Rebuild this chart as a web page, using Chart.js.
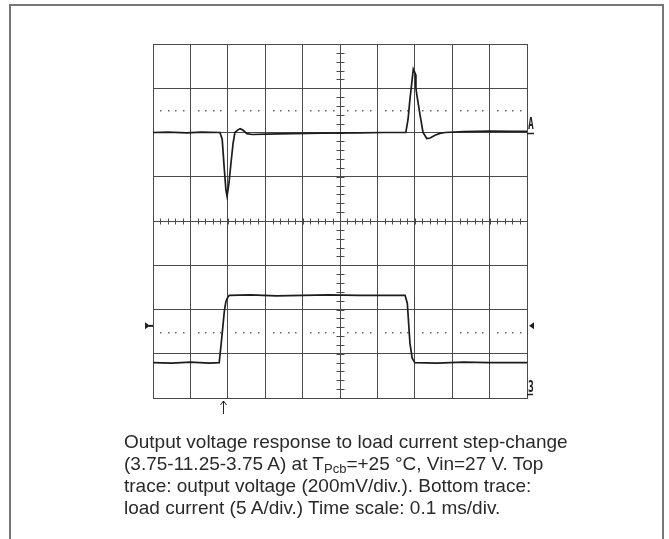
<!DOCTYPE html>
<html>
<head>
<meta charset="utf-8">
<script src="https://cdn.jsdelivr.net/npm/chart.js@4"></script>
<style>
  body { margin: 0; background: #fff; }
  #frame { position: absolute; left: 9px; top: 4px; width: 651px; height: 560px; border: 2px solid #777; border-bottom: none; }
  #scope { position: absolute; left: 0; top: 0; }
  #caption { position: absolute; left: 124px; top: 431px; width: 520px; font: 19px "Liberation Sans", Arial, sans-serif; line-height: 22px; color: #2a2a2a; }
  #caption sub { font-size: 13px; vertical-align: -3px; line-height: 0; }
</style>
</head>
<body>
<div id="frame"></div>
<canvas id="scope" width="669" height="539"></canvas>
<div id="caption">Output voltage response to load current step-change<br>(3.75-11.25-3.75 A) at T<sub>Pcb</sub>=+25 °C, Vin=27 V. Top<br>trace: output voltage (200mV/div.). Bottom trace:<br>load current (5 A/div.) Time scale: 0.1 ms/div.</div>
<script>
// Top trace: output voltage deviation (mV), time in ms
const voltTime = [0, 0.04, 0.09, 0.13, 0.179, 0.185, 0.190, 0.195, 0.198, 0.203, 0.209, 0.214, 0.219, 0.227, 0.233, 0.241, 0.251, 0.265, 0.30, 0.37, 0.45, 0.55, 0.62, 0.676, 0.682, 0.687, 0.693, 0.696, 0.699, 0.702, 0.703, 0.706, 0.714, 0.722, 0.732, 0.741, 0.754, 0.767, 0.781, 0.83, 0.9, 0.96, 1.0];
const voltDev = [0, 2, -2, 2, 0, -30, -150, -260, -288, -230, -130, -50, 0, 12, 17, 10, -5, -9, -7, -5, -3, -2, 0, 0, 60, 150, 240, 286, 275, 262, 200, 164, 80, 0, -27, -25, -12, -4, 0, 4, 6, 5, 5];

// Bottom trace: load current (A)
const currTime = [0, 0.05, 0.1, 0.15, 0.177, 0.182, 0.191, 0.195, 0.200, 0.204, 0.26, 0.33, 0.4, 0.47, 0.55, 0.62, 0.674, 0.680, 0.687, 0.693, 0.700, 0.76, 0.83, 0.9, 1.0];
const currAmp = [4.0, 3.95, 4.05, 3.95, 4.0, 6.0, 9.9, 10.9, 11.4, 11.6, 11.65, 11.55, 11.6, 11.65, 11.6, 11.6, 11.6, 10.7, 6.2, 4.5, 4.0, 3.95, 4.05, 4.0, 4.0];

// scope settings
const timeDiv = 0.1;      // ms/div
const voltDiv = 200;      // mV/div
const currDiv = 5;        // A/div
const trigLevel = 8.15;   // A
const trigTime = 0.188;   // ms

const gridColor = '#4a4a4a';
const traceColor = '#1c1c1c';

const scopeMarks = {
  id: 'scopeMarks',
  beforeDatasetsDraw(chart) {
    const {ctx, chartArea: a, scales: {x, y}} = chart;
    const cx = Math.round(x.getPixelForValue(0.5)) + 0.5;
    const cy = Math.round(y.getPixelForValue(-400)) + 0.5;
    ctx.save();
    ctx.strokeStyle = gridColor;
    ctx.lineWidth = 1;
    // minor ticks on centre lines
    ctx.beginPath();
    for (let i = 0; i <= 50; i++) {
      const px = Math.round(x.getPixelForValue(i * timeDiv / 5)) + 0.5;
      ctx.moveTo(px, cy - 3);
      ctx.lineTo(px, cy + 3);
    }
    for (let i = 0; i <= 40; i++) {
      const py = Math.round(y.getPixelForValue(-1200 + i * voltDiv / 5)) + 0.5;
      ctx.moveTo(cx - 4, py);
      ctx.lineTo(cx + 4, py);
    }
    ctx.stroke();
    // dotted lines
    ctx.fillStyle = '#666';
    [-900, 100].forEach(v => {
      const py = Math.round(y.getPixelForValue(v));
      for (let i = 1; i < 50; i++) {
        if (i % 5 === 0) continue;
        const px = Math.round(x.getPixelForValue(i * timeDiv / 5));
        ctx.fillRect(px, py, 1.5, 1.5);
      }
    });
    ctx.restore();
  },
  afterDraw(chart) {
    const {ctx, chartArea: a, scales: {x, y, y2}} = chart;
    ctx.save();
    ctx.fillStyle = '#222';
    ctx.strokeStyle = '#222';
    ctx.lineWidth = 1.5;
    // channel markers
    const yA = Math.round(y.getPixelForValue(0));
    const y3 = Math.round(y2.getPixelForValue(0));
    ctx.textBaseline = 'alphabetic';
    ctx.font = 'bold 16px "DejaVu Sans Mono"';
    ctx.save();
    ctx.translate(a.right + 1, yA - 4);
    ctx.scale(0.6, 1);
    ctx.fillText('A', 0, 0);
    ctx.restore();
    ctx.beginPath();
    ctx.moveTo(a.right, yA + 0.5);
    ctx.lineTo(a.right + 7, yA + 0.5);
    ctx.stroke();
    ctx.save();
    ctx.translate(a.right + 1, y3 - 6);
    ctx.scale(0.6, 1);
    ctx.fillText('3', 0, 0);
    ctx.restore();
    ctx.beginPath();
    ctx.moveTo(a.right, y3 - 3.5);
    ctx.lineTo(a.right + 6, y3 - 3.5);
    ctx.stroke();
    // trigger level triangles
    const yT = y2.getPixelForValue(trigLevel);
    ctx.beginPath();
    ctx.moveTo(a.left - 8, yT - 3.5);
    ctx.lineTo(a.left - 3, yT);
    ctx.lineTo(a.left - 8, yT + 3.5);
    ctx.closePath();
    ctx.fillRect(a.left - 4, yT - 1, 4, 2);
    ctx.moveTo(a.right + 7, yT - 3.5);
    ctx.lineTo(a.right + 2, yT);
    ctx.lineTo(a.right + 7, yT + 3.5);
    ctx.closePath();
    ctx.fill();
    // trigger time arrow
    const xT = Math.round(x.getPixelForValue(trigTime)) + 0.5;
    ctx.lineWidth = 1;
    ctx.beginPath();
    ctx.moveTo(xT, a.bottom + 3);
    ctx.lineTo(xT, a.bottom + 16);
    ctx.moveTo(xT - 3, a.bottom + 7);
    ctx.lineTo(xT, a.bottom + 3);
    ctx.lineTo(xT + 3, a.bottom + 7);
    ctx.stroke();
    ctx.restore();
  }
};

const scopeCtx = document.getElementById('scope').getContext('2d');
new Chart(scopeCtx, {
  type: 'line',
  data: {
    datasets: [{
      label: 'Output voltage',
      data: voltTime.map((t, i) => ({x: t, y: voltDev[i]})),
      yAxisID: 'y',
      borderColor: traceColor,
      borderWidth: 1.7,
      pointRadius: 0,
      tension: 0
    }, {
      label: 'Load current',
      data: currTime.map((t, i) => ({x: t, y: currAmp[i]})),
      yAxisID: 'y2',
      borderColor: traceColor,
      borderWidth: 1.7,
      pointRadius: 0,
      tension: 0
    }]
  },
  options: {
    responsive: false,
    animation: false,
    layout: { padding: { left: 153, right: 142, top: 44, bottom: 141 } },
    plugins: { legend: { display: false }, tooltip: { enabled: false } },
    scales: {
      x: {
        type: 'linear', min: 0, max: 10 * timeDiv,
        ticks: { display: false, stepSize: timeDiv },
        grid: { color: gridColor, drawTicks: false, lineWidth: 1 },
        border: { color: gridColor }
      },
      y: {
        min: -6 * voltDiv, max: 2 * voltDiv,
        ticks: { display: false, stepSize: voltDiv },
        grid: { color: gridColor, drawTicks: false, lineWidth: 1 },
        border: { color: gridColor }
      },
      y2: {
        display: false, min: 0, max: 8 * currDiv
      }
    }
  },
  plugins: [scopeMarks]
});
</script>
</body>
</html>
